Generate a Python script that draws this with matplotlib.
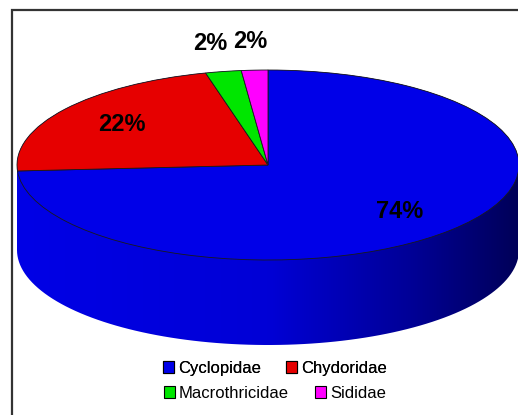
import numpy as np
import matplotlib
matplotlib.use("Agg")
import matplotlib.pyplot as plt
from matplotlib.path import Path
from matplotlib.patches import PathPatch, Rectangle, Patch
from matplotlib.colors import LinearSegmentedColormap

families = ["Cyclopidae", "Chydoridae", "Macrothricidae", "Sididae"]
shares = [74, 22, 2.3, 1.7]
colors = ["#0000E8", "#E60000", "#00E600", "#FF00FF"]

font = ["Liberation Sans", "DejaVu Sans"]

W, H = 518, 415
fig = plt.figure(figsize=(W / 100, H / 100), dpi=100)
ax = fig.add_axes([0, 0, 1, 1])

# pie geometry in pixels (the pie runs off the right edge, as in the original)
cx, cy = 268, 165      # centre of the top face
rx, ry = 251, 95       # ellipse radii
depth = 85 / ry        # side height in pie units

wedges, texts, autotexts = ax.pie(
    shares, colors=colors, startangle=90, counterclock=False,
    autopct="%.0f%%", pctdistance=0.72,
    wedgeprops=dict(edgecolor="#1a1a1a", linewidth=0.6, zorder=3),
    textprops=dict(fontsize=17, fontweight="bold", family=font,
                   fontstretch="condensed", color="black"),
)
for t in autotexts:
    t.set_zorder(5)

# small slices: labels sit above the rim
for w, t, v in zip(wedges, autotexts, shares):
    if v < 5:
        mid = np.deg2rad((w.theta1 + w.theta2) / 2)
        t.set_position((1.3 * np.cos(mid), 1.3 * np.sin(mid)))

# the side band: upper half at top level, lower half dropped by depth
th_up = np.linspace(0, np.pi, 100)
th_lo = np.linspace(np.pi, 2 * np.pi, 100)
pts = np.concatenate([
    np.column_stack([np.cos(th_up), np.sin(th_up)]),
    np.column_stack([np.cos(th_lo), np.sin(th_lo) - depth]),
])
band = PathPatch(Path(np.vstack([pts, pts[:1]]), closed=True),
                 facecolor="none", edgecolor="none", transform=ax.transData)
ax.add_patch(band)
side_cmap = LinearSegmentedColormap.from_list(
    "side", [(0, "#0000E6"), (0.5, "#0000D6"), (0.78, "#000098"), (1, "#000058")])
grad = ax.imshow(np.linspace(0, 1, 256)[None, :], cmap=side_cmap, aspect="auto",
                 extent=(-1, 1, -1 - depth, 1), zorder=1, interpolation="bilinear")
grad.set_clip_path(band)

# squash the circle into the ellipse of the 3D look
ax.set_aspect("auto")
ax.set_xlim(-cx / rx, (W - cx) / rx)
ax.set_ylim(-(H - cy) / ry, cy / ry)
ax.axis("off")

# frame of the chart area (cut off right and bottom)
fig.patches.append(Rectangle((12 / W, -0.1), 1.2, 1 - 10 / H + 0.1,
                             transform=fig.transFigure, fill=False,
                             edgecolor="#333333", linewidth=1.6))

handles = [Patch(facecolor=c, edgecolor="black", linewidth=0.8) for c in colors]
leg_kw = dict(ncol=2, frameon=False, loc="center", handlelength=0.65,
              handleheight=0.75, handletextpad=0.25, borderpad=0,
              prop=dict(family=font, size=12, stretch="condensed"))
leg1 = fig.legend(handles[:2], families[:2], bbox_to_anchor=(275 / W, 1 - 368 / H),
                  columnspacing=1.5, **leg_kw)
fig.legend(handles[2:], families[2:], bbox_to_anchor=(275 / W, 1 - 393 / H),
           columnspacing=1.6, **leg_kw)
fig.add_artist(leg1)

fig.savefig("out.png", dpi=100)
